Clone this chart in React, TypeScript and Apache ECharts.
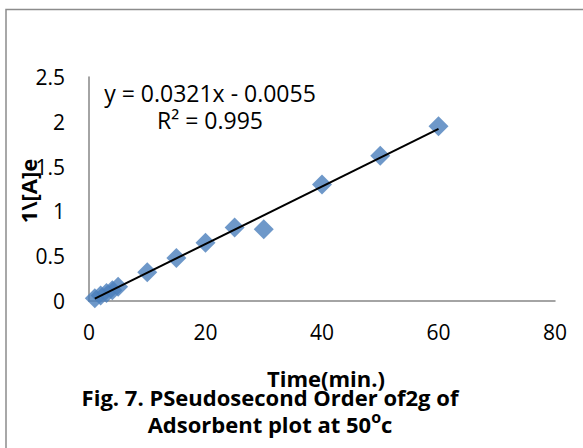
import React, { useEffect, useRef } from "react";
import * as echarts from "echarts";

const timeMin = [1, 2, 3, 4, 5, 10, 15, 20, 25, 30, 40, 50, 60];
const invA = [0.03, 0.06, 0.09, 0.12, 0.16, 0.32, 0.48, 0.65, 0.82, 0.8, 1.3, 1.62, 1.95];
const slope = 0.0321;
const intercept = -0.0055;
const trendX = [1, 60];
const equationText = "y = 0.0321x - 0.0055";
const r2Text = "R² = 0.995";
const xTitle = "Time(min.)";
const yTitle = "1\\[A]e";

const FONT = "'Open Sans', 'Noto Sans', sans-serif";

export default function App() {
  const ref = useRef<HTMLDivElement>(null);
  useEffect(() => {
    if (!ref.current) return;
    const chart = echarts.init(ref.current, undefined, { renderer: "svg" });
    const points = timeMin.map((t, i) => [t, invA[i]]);
    const trend = trendX.map((x) => [x, slope * x + intercept]);
    chart.setOption({
      animation: false,
      backgroundColor: "#fff",
      grid: { left: 89, right: 28, top: 77, bottom: 147 },
      xAxis: {
        type: "value",
        min: 0,
        max: 80,
        interval: 20,
        axisLine: { show: true, lineStyle: { color: "#868686", width: 1.5 } },
        axisTick: { show: false },
        splitLine: { show: false },
        axisLabel: { color: "#000", fontFamily: FONT, fontSize: 21, margin: 20 },
      },
      yAxis: {
        type: "value",
        min: 0,
        max: 2.5,
        interval: 0.5,
        axisLine: { show: true, lineStyle: { color: "#868686", width: 1.5 } },
        axisTick: { show: false },
        splitLine: { show: false },
        axisLabel: { color: "#000", fontFamily: FONT, fontSize: 21, margin: 24 },
      },
      series: [
        {
          type: "scatter",
          data: points,
          symbol: "diamond",
          symbolSize: 20,
          itemStyle: { color: "#4a7ebb" },
          z: 2,
        },
        {
          type: "line",
          data: trend,
          showSymbol: false,
          symbol: "none",
          lineStyle: { color: "#000", width: 2 },
          z: 3,
        },
      ],
      graphic: [
        {
          type: "rect",
          shape: { x: 6, y: 9.5, width: 700, height: 600 },
          style: { fill: "none", stroke: "#8c8c8c", lineWidth: 1.5 },
          silent: true,
        },
        {
          type: "text",
          x: 210,
          y: 93,
          style: {
            text: equationText,
            font: `23px ${FONT}`,
            fill: "#000",
            textAlign: "center",
            textVerticalAlign: "middle",
          },
        },
        {
          type: "text",
          x: 210,
          y: 120,
          style: {
            text: r2Text,
            font: `23px ${FONT}`,
            fill: "#000",
            textAlign: "center",
            textVerticalAlign: "middle",
          },
        },
        {
          type: "text",
          x: 326,
          y: 378,
          style: {
            text: xTitle,
            font: `bold 22px ${FONT}`,
            fill: "#000",
            textAlign: "center",
            textVerticalAlign: "middle",
          },
        },
        {
          type: "text",
          x: 28,
          y: 191,
          rotation: Math.PI / 2,
          style: {
            text: yTitle,
            font: `bold 22px ${FONT}`,
            fill: "#000",
            textAlign: "center",
            textVerticalAlign: "middle",
          },
        },
        {
          type: "text",
          x: 270,
          y: 397,
          style: {
            text: "Fig. 7. PSeudosecond Order of2g of",
            font: `bold 22px ${FONT}`,
            fill: "#000",
            textAlign: "center",
            textVerticalAlign: "middle",
          },
        },
        {
          type: "text",
          x: 270,
          y: 422,
          style: {
            text: "{a|Adsorbent plot at 50}{s|o}{a|c}",
            fill: "#000",
            textAlign: "center",
            textVerticalAlign: "middle",
            rich: {
              a: { font: `bold 22px ${FONT}`, fill: "#000", verticalAlign: "bottom", lineHeight: 26 },
              s: { font: `bold 16px ${FONT}`, fill: "#000", verticalAlign: "top", lineHeight: 26 },
            },
          },
        },
      ],
    });
    return () => chart.dispose();
  }, []);
  return (
    <div
      ref={ref}
      style={{ position: "fixed", left: 0, top: 0, width: 583, height: 448 }}
    />
  );
}
